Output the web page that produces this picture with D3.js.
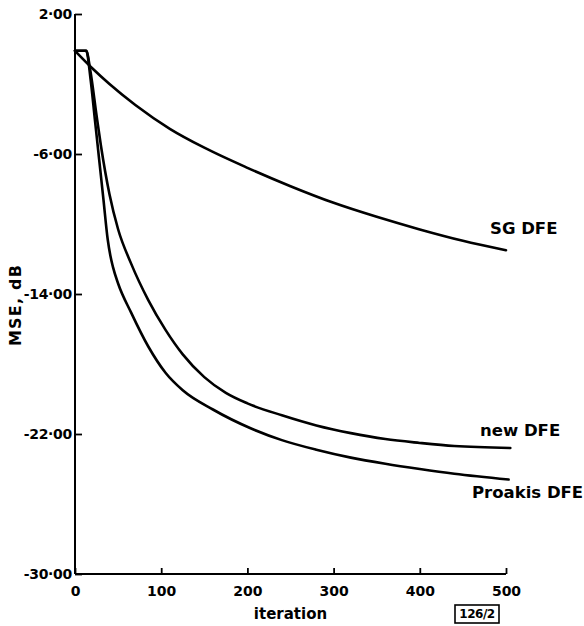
<!DOCTYPE html>
<html>
<head>
<meta charset="utf-8">
<script src="https://cdn.jsdelivr.net/npm/d3@7"></script>
<style>
  html, body { margin: 0; padding: 0; background: #fff; }
  svg { display: block; }
  text { font-family: "DejaVu Sans", sans-serif; fill: #000; }
</style>
</head>
<body>
<svg id="chart" width="584" height="626"></svg>
<script>
// ---- data ----
const xTicks = [0, 100, 200, 300, 400, 500];
const yTicks = [2, -6, -14, -22, -30];
const yTickLabels = ["2·00", "-6·00", "-14·00", "-22·00", "-30·00"];

const iterSG = [0, 20, 40, 70, 110, 150, 200, 250, 300, 350, 400, 450, 500];
const mseSG  = [-0.1, -1.1, -2.0, -3.2, -4.56, -5.64, -6.79, -7.84, -8.79, -9.59, -10.31, -10.96, -11.5];

const iterNew = [0, 13, 18, 25, 30, 40, 50, 65, 85, 105, 125, 150, 175, 200, 240, 280, 320, 360, 400, 440, 505];
const mseNew  = [-0.1, -0.1, -1.3, -3.8, -5.5, -8.3, -10.3, -12.25, -14.35, -16.05, -17.45, -18.75, -19.65, -20.25, -20.93, -21.51, -21.95, -22.29, -22.51, -22.69, -22.8];

const iterProakis = [0, 13, 18, 23, 28, 33, 38, 41, 44, 50, 65, 85, 105, 125, 160, 205, 240, 280, 320, 360, 400, 440, 503];
const mseProakis  = [-0.1, -0.1, -1.7, -4.0, -6.3, -8.6, -10.9, -11.8, -12.45, -13.4, -15.05, -17.0, -18.5, -19.5, -20.6, -21.7, -22.35, -22.9, -23.35, -23.7, -24.0, -24.27, -24.6];

const seriesNames = ["SG DFE", "new DFE", "Proakis DFE"];
const xTitle = "iteration";
const yTitle = "MSE, dB";
const figCode = "126/2";

// ---- layout ----
const svg = d3.select("#chart");
const x = d3.scaleLinear().domain([0, 500]).range([75, 506]);
const y = d3.scaleLinear().domain([-30, 2]).range([574, 14]);

const g = svg.append("g");

// axes
const xAxis = d3.axisBottom(x).tickValues(xTicks).tickSize(-6).tickPadding(12).tickFormat(d3.format("d"));
const yAxis = d3.axisLeft(y).tickValues(yTicks).tickSize(-7).tickPadding(10)
  .tickFormat((d, i) => yTickLabels[i]);

const gx = g.append("g").attr("transform", `translate(0,${y(-30)})`).call(xAxis);
const gy = g.append("g").attr("transform", `translate(${x(0)},0)`).call(yAxis);

[gx, gy].forEach(a => {
  a.select(".domain").attr("stroke", "#000").attr("stroke-width", 2);
  a.selectAll(".tick line").attr("stroke", "#000").attr("stroke-width", 1.8);
  a.selectAll(".tick text").attr("font-family", "DejaVu Sans, sans-serif")
    .attr("font-size", 14).attr("font-weight", "bold").attr("fill", "#000");
});
gx.select(".domain").attr("d", `M${x(0)},0H${x(500)}`);
gy.select(".domain").attr("d", `M0,${y(2)}V${y(-30)}`);
gy.selectAll(".tick text").attr("dx", 7).attr("dy", "0.35em").attr("letter-spacing", -0.3);

// titles
g.append("text").attr("x", (x(0) + x(500)) / 2).attr("y", 619)
  .attr("text-anchor", "middle").attr("font-size", 15).attr("font-weight", "bold").text(xTitle);
g.append("text").attr("transform", "translate(21,305) rotate(-90)")
  .attr("text-anchor", "middle").attr("font-size", 16).attr("font-weight", "bold")
  .attr("letter-spacing", 1.2).text(yTitle);

// figure code box
const code = g.append("g").attr("transform", "translate(477,614)");
code.append("rect").attr("x", -22).attr("y", -9).attr("width", 44).attr("height", 18)
  .attr("fill", "none").attr("stroke", "#000").attr("stroke-width", 1.6);
code.append("text").attr("text-anchor", "middle").attr("dy", "0.36em")
  .attr("font-size", 12).attr("font-weight", "bold").attr("letter-spacing", -0.5).text(figCode);

// curves
const line = d3.line().x(d => x(d[0])).y(d => y(d[1])).curve(d3.curveMonotoneX);
const series = [
  d3.zip(iterSG, mseSG),
  d3.zip(iterNew, mseNew),
  d3.zip(iterProakis, mseProakis)
];
g.selectAll("path.curve").data(series).join("path")
  .attr("class", "curve")
  .attr("d", line)
  .attr("fill", "none").attr("stroke", "#000").attr("stroke-width", 2.6)
  .attr("stroke-linejoin", "round").attr("stroke-linecap", "round");

// curve labels
const labelPos = [[490, 234], [480, 436], [472, 498]];
g.selectAll("text.lab").data(seriesNames).join("text")
  .attr("class", "lab")
  .attr("x", (d, i) => labelPos[i][0]).attr("y", (d, i) => labelPos[i][1])
  .attr("font-size", 16.5).attr("font-weight", "bold").text(d => d);
</script>
</body>
</html>
